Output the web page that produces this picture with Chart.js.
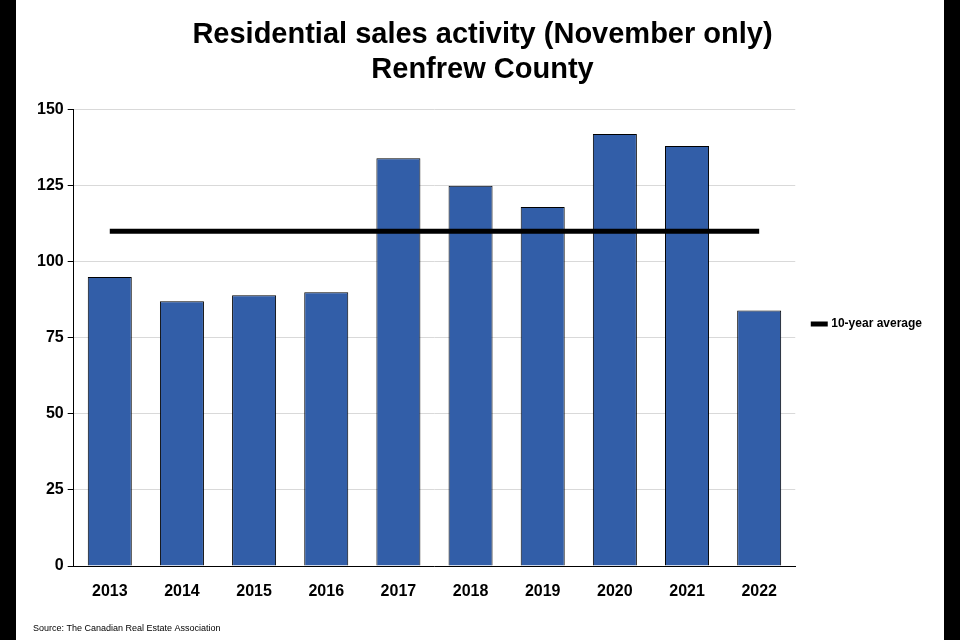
<!DOCTYPE html>
<html><head><meta charset="utf-8">
<script src="https://cdn.jsdelivr.net/npm/chart.js@4"></script>
<style>
html,body{margin:0;padding:0;background:#000;}
#wrap{position:absolute;left:16px;top:0;width:928px;height:640px;background:#fff;}
</style></head><body>
<div id="wrap"><canvas id="c"></canvas></div>
<script>
const categories = ['2013','2014','2015','2016','2017','2018','2019','2020','2021','2022'];
const sales = [95, 87, 89, 90, 134, 125, 118, 142, 138, 84];
const average = [110,110,110,110,110,110,110,110,110,110];
const yTicks = [0,25,50,75,100,125,150];

Chart.defaults.font.family = '"Liberation Sans", Arial, sans-serif';
Chart.defaults.color = '#000';
new Chart(document.getElementById('c'), {
  data: {
    labels: categories,
    datasets: [
      {type:'line', label:'10-year average', data: average, borderColor:'#000', borderWidth:5,
       pointRadius:0, backgroundColor:'#000', order:0},
      {type:'bar', label:'Sales', data: sales, backgroundColor:'#325ea8', borderColor:'#000',
       borderWidth:1, barPercentage:0.61, categoryPercentage:1, order:1}
    ]
  },
  options: {
    responsive:true, maintainAspectRatio:false, animation:false,
    layout:{padding:{left:17,right:12,top:14,bottom:6}},
    plugins:{
      title:{display:true, text:['Residential sales activity (November only)','Renfrew County'],
        font:{size:29,weight:'bold'}, padding:{top:4,bottom:22}, lineHeight:1.3},
      subtitle:{display:true, position:'bottom', align:'start', text:'Source: The Canadian Real Estate Association',
        font:{size:9}, padding:{top:14,bottom:0}},
      legend:{position:'right', labels:{filter:i=>i.text==='10-year average', usePointStyle:true,
        pointStyle:'line', boxWidth:22, font:{size:12,weight:'bold'}, padding:18}},
      tooltip:{enabled:false}
    },
    scales:{
      x:{grid:{display:false, drawTicks:true}, border:{color:'#000',width:1},
        ticks:{font:{size:16,weight:'bold'}, padding:8}},
      y:{min:0,max:150, afterBuildTicks:a=>{a.ticks=yTicks.map(v=>({value:v}));},
        grid:{color:'#d9d9d9', tickColor:'#000', tickLength:6}, border:{color:'#000',width:1},
        ticks:{font:{size:16,weight:'bold'}, padding:4}}
    }
  }
});
</script></body></html>
